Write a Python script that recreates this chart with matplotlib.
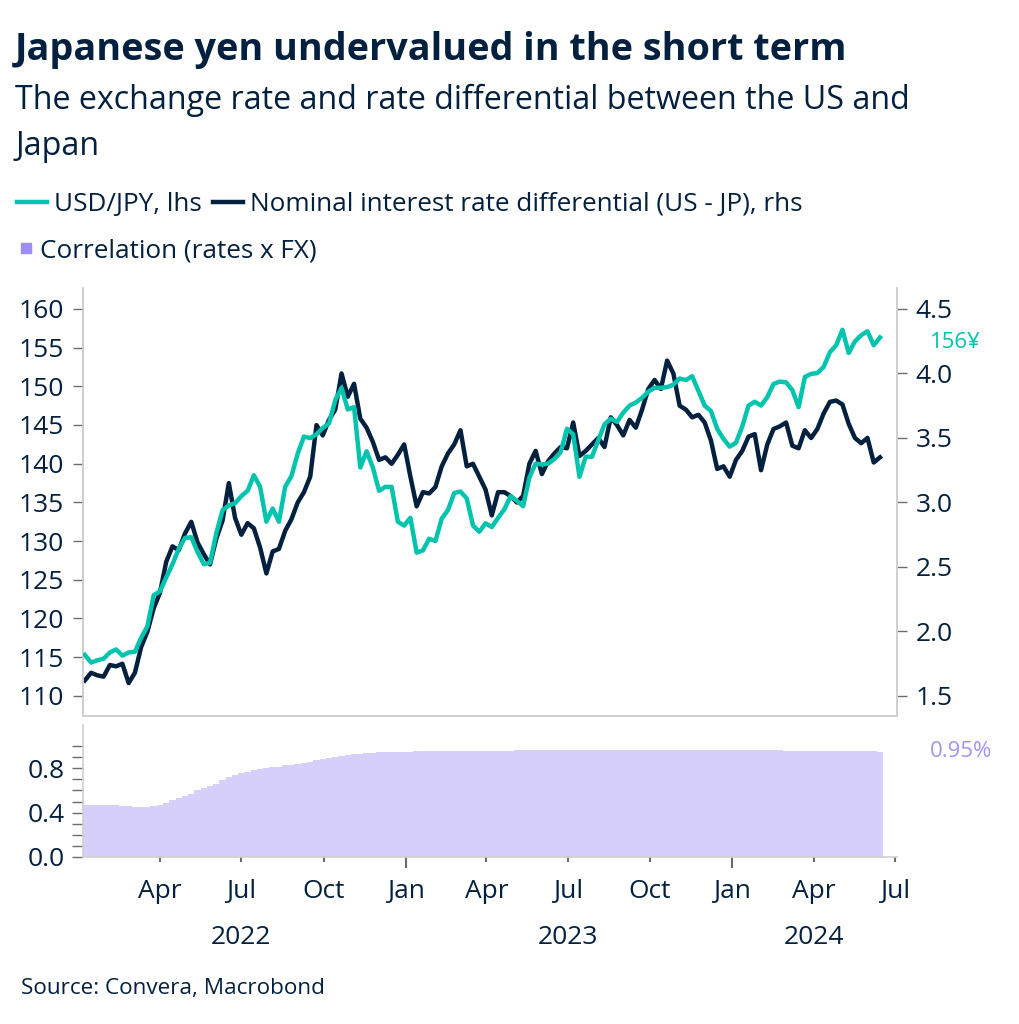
import numpy as np
import pandas as pd
import matplotlib
matplotlib.use('Agg')
import matplotlib.pyplot as plt
import matplotlib.dates as mdates
import matplotlib.transforms as mtransforms
from matplotlib.lines import Line2D

plt.rcParams['font.family'] = ['Open Sans', 'DejaVu Sans']

# %% data (weekly readings, Jan 2022 - Jun 2024)
start_date = '2022-01-07'

usd_jpy = [115.3, 114.3, 114.6, 114.8, 115.6, 116.0, 115.2, 115.6, 115.7, 117.5,
           119.0, 123.0, 123.5, 125.3, 127.0, 129.0, 130.4, 130.5, 128.6, 127.0,
           127.2, 131.0, 134.0, 134.6, 134.9, 135.8, 136.5, 138.5, 137.0, 132.5,
           134.2, 132.5, 137.0, 138.4, 141.3, 143.5, 143.3, 143.8, 144.6, 145.2,
           148.2, 149.8, 147.0, 147.3, 139.5, 141.6, 139.5, 136.5, 137.0, 137.0,
           132.5, 132.0, 133.0, 128.5, 128.8, 130.3, 130.0, 132.9, 134.0, 136.2,
           136.4, 135.5, 132.0, 131.2, 132.3, 131.8, 133.0, 134.1, 135.8, 135.2,
           134.5, 138.2, 140.0, 139.9, 140.0, 140.6, 141.5, 144.5, 143.8, 138.3,
           140.9, 140.9, 143.0, 145.1, 145.8, 145.4, 146.6, 147.5, 147.9, 148.5,
           149.3, 149.8, 149.8, 149.9, 150.2, 151.0, 150.8, 151.3, 149.4, 147.5,
           146.8, 144.5, 143.2, 142.2, 142.7, 144.8, 147.5, 148.0, 147.5, 148.6,
           150.3, 150.6, 150.5, 149.5, 147.3, 151.2, 151.6, 151.7, 152.5, 154.4,
           155.3, 157.3, 154.3, 155.8, 156.6, 157.1, 155.3, 156.3]

rate_diff = [1.62, 1.68, 1.66, 1.65, 1.74, 1.73, 1.75, 1.60, 1.68, 1.88,
             2.00, 2.18, 2.30, 2.54, 2.66, 2.63, 2.76, 2.85, 2.69, 2.60,
             2.52, 2.72, 2.86, 3.15, 2.88, 2.75, 2.84, 2.80, 2.65, 2.45,
             2.62, 2.64, 2.78, 2.87, 3.00, 3.08, 3.20, 3.60, 3.52, 3.64,
             3.72, 4.00, 3.82, 3.92, 3.65, 3.58, 3.47, 3.33, 3.35, 3.30,
             3.37, 3.45, 3.20, 2.97, 3.08, 3.07, 3.12, 3.28, 3.38, 3.45,
             3.56, 3.28, 3.30, 3.20, 3.10, 2.90, 3.08, 3.08, 3.05, 3.00,
             3.05, 3.30, 3.40, 3.22, 3.32, 3.38, 3.43, 3.42, 3.62, 3.36,
             3.40, 3.45, 3.50, 3.43, 3.66, 3.60, 3.52, 3.64, 3.58, 3.72,
             3.88, 3.95, 3.88, 4.10, 4.00, 3.75, 3.72, 3.66, 3.68, 3.62,
             3.48, 3.26, 3.28, 3.20, 3.33, 3.40, 3.51, 3.53, 3.25, 3.45,
             3.57, 3.59, 3.62, 3.44, 3.42, 3.56, 3.50, 3.57, 3.69, 3.78,
             3.79, 3.76, 3.61, 3.50, 3.46, 3.50, 3.31, 3.35]

correlation = [0.47, 0.47, 0.47, 0.47, 0.47, 0.465, 0.46,
               0.46, 0.455, 0.45, 0.455, 0.46, 0.47,
               0.49, 0.51, 0.53, 0.55, 0.57, 0.60, 0.62, 0.64, 0.66, 0.69, 0.72, 0.74,
               0.755, 0.77, 0.78, 0.79, 0.80, 0.81, 0.815, 0.825, 0.83, 0.84, 0.85, 0.86,
               0.87, 0.88, 0.89, 0.90, 0.91, 0.92, 0.925, 0.93, 0.935, 0.94, 0.943, 0.945,
               0.947, 0.948, 0.95, 0.951, 0.952, 0.953, 0.954, 0.955, 0.955, 0.956, 0.956, 0.957,
               0.957, 0.958, 0.958, 0.959, 0.959, 0.96, 0.96, 0.96, 0.961, 0.961, 0.962, 0.962,
               0.962, 0.963, 0.963, 0.963, 0.964, 0.964, 0.964, 0.965, 0.965, 0.965, 0.966, 0.966,
               0.966, 0.966, 0.966, 0.967, 0.967, 0.967, 0.967, 0.967, 0.967, 0.967, 0.967, 0.966,
               0.966, 0.966, 0.966, 0.965, 0.965, 0.965, 0.964, 0.964, 0.964, 0.963, 0.963, 0.962,
               0.962, 0.961, 0.961, 0.960, 0.960, 0.959, 0.959, 0.958, 0.958, 0.957, 0.957, 0.956,
               0.956, 0.955, 0.955, 0.954, 0.953, 0.952, 0.950]

dates = pd.date_range(start_date, periods=len(usd_jpy), freq='7D')

# %% style
teal = '#00c4ae'
navy = '#03203f'
lavender = '#d5cff9'
purple = '#a395f2'
spine_grey = '#cfcfcf'
tick_grey = '#6b6b6b'
tick_fs = 19

fig = plt.figure(figsize=(10.2, 10.24), dpi=100)
ax = fig.add_axes([0.0814, 0.3008, 0.7980, 0.4180])
ax2 = ax.twinx()
axc = fig.add_axes([0.0814, 0.1631, 0.7980, 0.1289], sharex=ax)

ax.plot(dates, usd_jpy, color=teal, lw=3.2, zorder=3)
ax2.plot(dates, rate_diff, color=navy, lw=3.2, zorder=2)
ax.set_zorder(ax2.get_zorder() + 1)
ax.patch.set_visible(False)

ax.set_ylim(107.4, 162.7)
ax2.set_ylim(1.345, 4.663)
ax.set_yticks(np.arange(110, 161, 5))
ax2.set_yticks(np.arange(1.5, 4.51, 0.5))
ax2.yaxis.set_major_formatter(matplotlib.ticker.FormatStrFormatter('%.1f'))
ax.set_xlim(pd.Timestamp('2022-01-05'), pd.Timestamp('2024-07-03'))

for a in (ax, ax2):
    for s in a.spines.values():
        s.set_color(spine_grey)
        s.set_linewidth(1.2)
    a.spines['top'].set_visible(False)
    a.tick_params(axis='y', length=7.5, width=1, color=tick_grey, pad=6,
                  labelsize=tick_fs, labelcolor=navy)
ax.tick_params(axis='x', which='both', bottom=False, labelbottom=False)
ax2.tick_params(axis='x', which='both', bottom=False, labelbottom=False)

# end-value annotations
blend = mtransforms.blended_transform_factory(ax.transAxes, ax.transData)
ax.text(1.04, 155.6, '156¥', transform=blend, color=teal, fontsize=16,
        va='center', ha='left')

# %% correlation panel
axc.bar(dates, correlation, width=7.2, color=lavender, edgecolor='none', zorder=1)
axc.set_ylim(0, 1.19)
axc.set_yticks([0.0, 0.4, 0.8])
axc.set_yticks(np.arange(0.1, 1.01, 0.1), minor=True)
axc.yaxis.set_major_formatter(matplotlib.ticker.FormatStrFormatter('%.1f'))
for side in ('top', 'right'):
    axc.spines[side].set_visible(False)
for side in ('left', 'bottom'):
    axc.spines[side].set_color(spine_grey)
    axc.spines[side].set_linewidth(1.2)
axc.tick_params(axis='y', which='both', length=8, width=1, color=tick_grey,
                pad=5, labelsize=tick_fs, labelcolor=navy)

axc.xaxis.set_major_locator(mdates.MonthLocator(bymonth=[1]))
axc.xaxis.set_minor_locator(mdates.MonthLocator(bymonth=[4, 7, 10]))
axc.xaxis.set_major_formatter(mdates.DateFormatter('%b'))
axc.xaxis.set_minor_formatter(mdates.DateFormatter('%b'))
axc.tick_params(axis='x', which='major', length=8, width=1.5, color=tick_grey,
                pad=8, labelsize=tick_fs, labelcolor=navy)
axc.tick_params(axis='x', which='minor', length=3.5, width=1.5, color=tick_grey,
                pad=12.5, labelsize=tick_fs, labelcolor=navy)

blend_c = mtransforms.blended_transform_factory(axc.transData, axc.transAxes)
for yr, d in [('2022', '2022-07-01'), ('2023', '2023-07-01'), ('2024', '2024-04-01')]:
    axc.text(pd.Timestamp(d), -0.61, yr, transform=blend_c, ha='center', va='center',
             fontsize=tick_fs, color=navy)

blend_c2 = mtransforms.blended_transform_factory(axc.transAxes, axc.transData)
axc.text(1.04, 0.95, '0.95%', transform=blend_c2, color=purple, fontsize=16,
         va='center', ha='left')

# %% titles, legend, source
fig.text(0.015, 0.941, 'Japanese yen undervalued in the short term', fontsize=27.2,
         fontweight='bold', color=navy, va='baseline')
fig.text(0.015, 0.894, 'The exchange rate and rate differential between the US and',
         fontsize=23.2, color=navy, va='baseline')
fig.text(0.015, 0.849, 'Japan', fontsize=23.2, color=navy, va='baseline')

h1 = [Line2D([], [], color=teal, lw=3.2), Line2D([], [], color=navy, lw=3.2)]
fig.legend(h1, ['USD/JPY, lhs', 'Nominal interest rate differential (US - JP), rhs'],
           loc='center left', bbox_to_anchor=(0.017, 0.800), ncol=2, frameon=False,
           fontsize=18.8, handlelength=1.15, handletextpad=0.27, columnspacing=0.4,
           borderpad=0, borderaxespad=0, labelcolor=navy)
h2 = [Line2D([], [], color='#9d8ef0', marker='s', markersize=6.5, lw=0)]
fig.legend(h2, ['Correlation (rates x FX)'], loc='center left',
           bbox_to_anchor=(0.017, 0.755), frameon=False, fontsize=18.8,
           handlelength=0.7, handletextpad=0.15, borderpad=0, borderaxespad=0,
           labelcolor=navy)

fig.text(0.021, 0.035, 'Source: Convera, Macrobond', fontsize=16.2, color=navy,
         va='center')

fig.savefig('out.png', dpi=100)
